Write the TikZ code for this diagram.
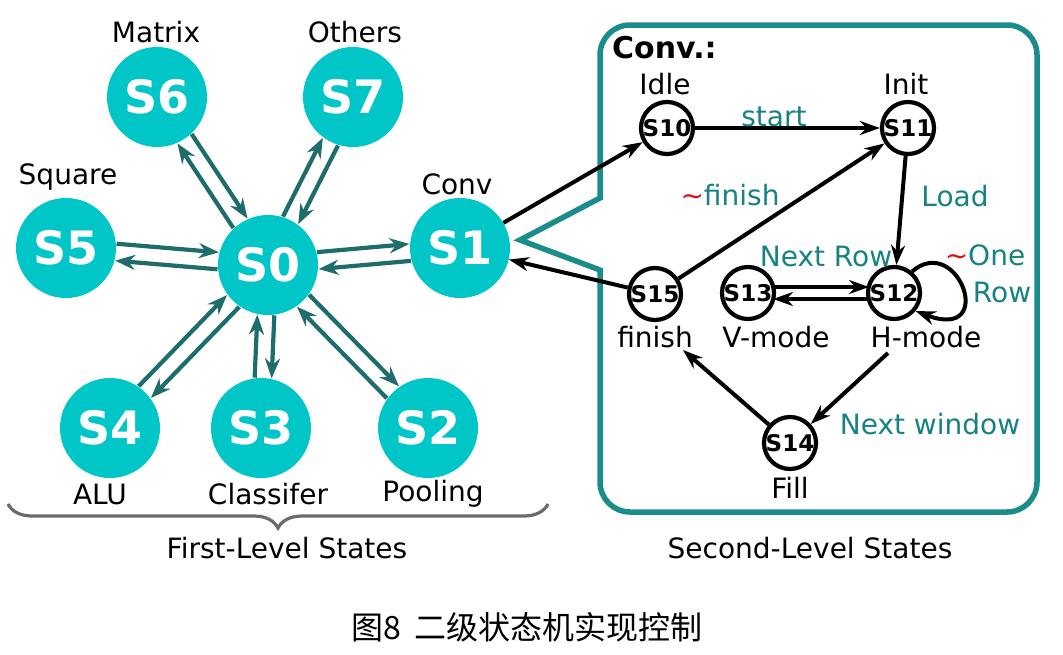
\documentclass[tikz,border=0pt]{standalone}
\usepackage{fontspec}
\setmainfont{DejaVu Sans}
\newfontfamily\cjk{Noto Sans CJK SC}
\usetikzlibrary{arrows.meta,decorations.pathreplacing,calc}
\definecolor{cyanfill}{HTML}{00C6C8}
\definecolor{tealarrow}{HTML}{1E6C6C}
\definecolor{boxteal}{HTML}{1A8C8C}
\definecolor{labelteal}{HTML}{168282}
\definecolor{tildered}{HTML}{E01010}
\begin{document}
\begin{tikzpicture}[x=1pt,y=-1pt,
  bigstate/.style={circle, fill=cyanfill, minimum size=100pt, inner sep=0pt, text=white, font=\fontsize{46}{50}\selectfont\bfseries},
  smallstate/.style={circle, draw=black, line width=4.2pt, minimum size=52pt, inner sep=0pt, font=\fontsize{23}{26}\selectfont\bfseries},
  lbl/.style={font=\fontsize{28}{32}\selectfont, inner sep=0pt},
  elbl/.style={font=\fontsize{28}{32}\selectfont, inner sep=0pt, text=labelteal},
  tarr/.style={-{Stealth[length=20pt,width=15pt]}, draw=tealarrow, line width=4.2pt},
  barr/.style={-{Stealth[length=20pt,width=14pt]}, draw=black, line width=4pt},
  boxline/.style={draw=boxteal, line width=5.5pt}
]
\useasboundingbox (0,0) rectangle (1063,654);

% first level states
\node[bigstate] (S0) at (268,265) {S0};
\node[bigstate] (S1) at (460,248) {S1};
\node[bigstate] (S2) at (428,428) {S2};
\node[bigstate] (S3) at (261,428) {S3};
\node[bigstate] (S4) at (110,428) {S4};
\node[bigstate] (S5) at (66,248) {S5};
\node[bigstate] (S6) at (157,97) {S6};
\node[bigstate] (S7) at (353,97) {S7};

\node[lbl] (lMatrix) at (156,32) {Matrix};
\node[lbl] (lOthers) at (355,32) {Others};
\node[lbl] (lSquare) at (68,177) {Square};
\node[lbl] (lConv) at (457,184) {Conv};
\node[lbl] (lALU) at (100,494) {ALU};
\node[lbl] (lClass) at (268,494) {Classifer};
\node[lbl] (lPool) at (433,494) {Pooling};

% double arrows
\foreach \X in {S1,S2,S3,S4,S5,S6,S7}{
  \draw[tarr, shorten <=50pt, shorten >=50pt] ($(S0.center)!8.5pt!90:(\X.center)$) -- ($(\X.center)!8.5pt!-90:(S0.center)$);
  \draw[tarr, shorten <=50pt, shorten >=50pt] ($(\X.center)!8.5pt!90:(S0.center)$) -- ($(S0.center)!8.5pt!-90:(\X.center)$);
}

% brace
\draw[draw=black!58, line width=3.2pt, decorate, decoration={brace, mirror, amplitude=24pt, aspect=0.5}] (8,504) -- (548,504);
\node[lbl] (first) at (287,548) {First-Level States};

% second level box
\draw[boxline, rounded corners=30pt] (600,268) -- (600,512) -- (1037,512) -- (1037,25) -- (600,25) -- (600,200);
\draw[boxline, line join=miter] (600,198) -- (520,240) -- (600,270);
\node[font=\fontsize{30}{34}\selectfont\bfseries, inner sep=0pt, anchor=west] (convt) at (612,48) {Conv.:};

\node[smallstate] (S10) at (667,128) {S10};
\node[smallstate] (S11) at (908,128) {S11};
\node[smallstate] (S12) at (894,293) {S12};
\node[smallstate] (S13) at (748,293) {S13};
\node[smallstate] (S14) at (790,443) {S14};
\node[smallstate] (S15) at (655,294) {S15};

\node[lbl] (lIdle) at (665,84) {Idle};
\node[lbl] (lInit) at (906,84) {Init};
\node[lbl] (lfinish) at (655,337) {finish};
\node[lbl] (lV) at (776,337) {V-mode};
\node[lbl] (lH) at (926,337) {H-mode};
\node[lbl] (lFill) at (790,488) {Fill};

\coordinate (hm0) at (888,353);
\coordinate (fin0) at (683,350);

\draw[barr] (S1) -- (S10);
\draw[barr] (S15) -- (S1);
\draw[barr] (S10) -- (S11);
\draw[barr] (S15) -- (S11);
\draw[barr] (S11) -- (S12);
\draw[barr] ($(S13.center)+(25,-6)$) -- ($(S12.center)+(-25,-6)$);
\draw[barr] ($(S12.center)+(-25,6)$) -- ($(S13.center)+(25,6)$);
\draw[barr] (S12.50) .. controls (958,232) and (998,342) .. (S12.-40);
\draw[barr] (hm0) -- (S14);
\draw[barr] (S14) -- (fin0);

\node[elbl] (estart) at (774,117) {start};
\node[elbl] (efin) at (730,195) {\textcolor{tildered}{\char"223C}finish};
\node[elbl] (eload) at (955,196) {Load};
\node[elbl] (enr) at (826,256) {Next Row};
\node[elbl] (eone) at (985,255) {\textcolor{tildered}{\char"223C}One};
\node[elbl] (erow) at (1002,292) {Row};
\node[elbl] (enw) at (930,424) {Next window};

\node[lbl] (second) at (810,548) {Second-Level States};

\node[font=\cjk\fontsize{32}{36}\selectfont, inner sep=0pt] (cap) at (527,627) {图8\hspace{14pt}二级状态机实现控制};
\end{tikzpicture}
\end{document}
